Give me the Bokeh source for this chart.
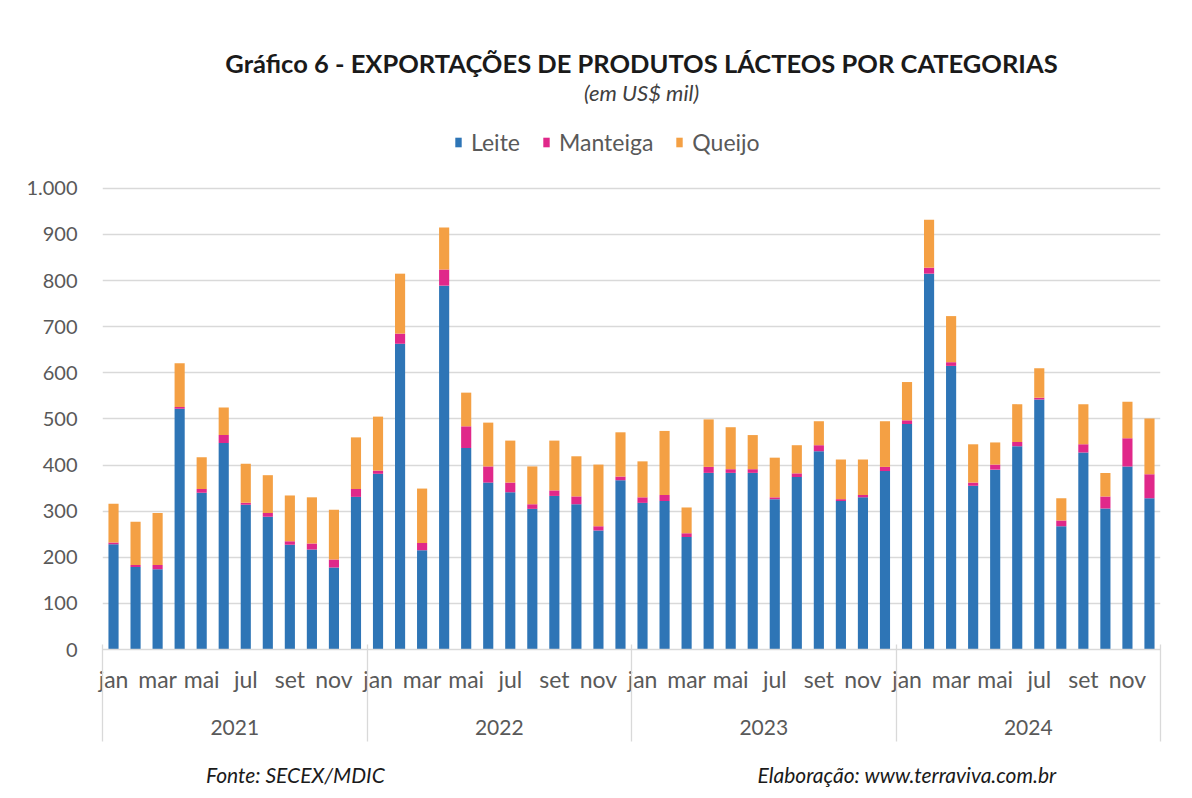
from bokeh.plotting import figure
from bokeh.models import (ColumnDataSource, FixedTicker, LinearAxis, Label, Legend, LegendItem, Range1d)
from bokeh.embed import file_html
from bokeh.resources import INLINE

years = ["2021", "2022", "2023", "2024"]
months = ["jan", "fev", "mar", "abr", "mai", "jun", "jul", "ago", "set", "out", "nov", "dez"]

leite = [228, 179, 174, 522, 340, 448, 314, 288, 227, 217, 178, 331,
         381, 663, 215, 789, 437, 362, 341, 305, 333, 315, 258, 367,
         318, 322, 244, 383, 383, 383, 326, 374, 430, 322, 330, 387,
         489, 815, 615, 355, 390, 441, 542, 267, 427, 306, 397, 328]
manteiga = [4, 4, 9, 4, 8, 17, 4, 8, 8, 13, 17, 17,
            7, 22, 16, 35, 47, 35, 21, 10, 12, 17, 9, 8,
            12, 13, 8, 13, 8, 8, 4, 8, 13, 4, 5, 9,
            8, 13, 8, 7, 11, 9, 4, 13, 18, 26, 61, 52]
queijo = [84, 94, 113, 95, 69, 60, 85, 82, 99, 100, 108, 112,
          117, 130, 118, 91, 73, 95, 91, 82, 108, 87, 134, 96,
          78, 139, 56, 103, 91, 74, 86, 61, 52, 86, 77, 99,
          83, 104, 100, 83, 48, 82, 64, 48, 87, 51, 79, 121]

series = ["Leite", "Manteiga", "Queijo"]
colors = ["#2E75B6", "#E0288A", "#F4A044"]
y_ticks = [0, 100, 200, 300, 400, 500, 600, 700, 800, 900, 1000]

title_text = "Gráfico 6 - EXPORTAÇÕES DE PRODUTOS LÁCTEOS POR CATEGORIAS"
subtitle_text = "(em US$ mil)"
source_text = "Fonte: SECEX/MDIC"
credit_text = "Elaboração: www.terraviva.com.br"

n = len(leite)
idx = list(range(n))
source = ColumnDataSource(dict(x=idx, Leite=leite, Manteiga=manteiga, Queijo=queijo))

FONT = "Lato"
GRAY = "#595959"
LINE = "#D9D9D9"

W, H = 1176, 794
p = figure(width=W, height=H, output_backend="svg", toolbar_location=None,
           x_range=Range1d(-0.5, n - 0.5), y_range=Range1d(0, 1364),
           min_border_left=102, min_border_right=16, min_border_top=20, min_border_bottom=145,
           x_axis_location=None, y_axis_location="left")
p.outline_line_color = None
p.background_fill_color = "white"
p.border_fill_color = "white"

renderers = p.vbar_stack(series, x="x", width=0.46, color=colors, source=source, line_color=None)

# grid
p.xgrid.grid_line_color = None
p.ygrid.grid_line_color = LINE
p.ygrid.grid_line_width = 1.3
p.ygrid.ticker = FixedTicker(ticks=y_ticks)

# y axis
yax = p.yaxis[0]
yax.ticker = FixedTicker(ticks=y_ticks)
yax.major_label_overrides = {1000: "1.000"}
yax.axis_line_color = None
yax.major_tick_line_color = None
yax.minor_tick_line_color = None
yax.major_label_text_font = FONT
yax.major_label_text_font_size = "20px"
yax.major_label_text_color = GRAY
yax.major_label_standoff = 19

# month axis
month_ticks = list(range(0, n, 2))
xm = LinearAxis(ticker=FixedTicker(ticks=month_ticks))
xm.major_label_overrides = {i: months[i % 12] for i in month_ticks}
xm.axis_line_color = LINE
xm.axis_line_width = 1.3
xm.major_tick_line_color = None
xm.major_tick_out = 0
xm.minor_tick_line_color = None
xm.major_label_text_font = FONT
xm.major_label_text_font_size = "23px"
xm.major_label_text_color = GRAY
xm.major_label_standoff = 15
p.add_layout(xm, "below")

# year axis
year_ticks = [5.5 + 12 * k for k in range(len(years))]
xy = LinearAxis(ticker=FixedTicker(ticks=year_ticks))
xy.major_label_overrides = {t: years[k] for k, t in enumerate(year_ticks)}
xy.axis_line_color = None
xy.major_tick_line_color = None
xy.minor_tick_line_color = None
xy.major_tick_out = 0
xy.major_label_text_font = FONT
xy.major_label_text_font_size = "21px"
xy.major_label_text_color = GRAY
xy.major_label_standoff = 24
p.add_layout(xy, "below")

# notes axis (also draws the year separators)
separators = [-0.5 + 12 * k for k in range(len(years) + 1)]
note_ticks = [8.25, 36]
xn = LinearAxis(ticker=FixedTicker(ticks=note_ticks, minor_ticks=separators))
xn.major_label_overrides = {8.25: source_text, 36: credit_text}
xn.axis_line_color = None
xn.major_tick_line_color = None
xn.major_tick_out = 0
xn.minor_tick_line_color = LINE
xn.minor_tick_line_width = 1.3
xn.minor_tick_in = 93
xn.minor_tick_out = 4
xn.major_label_text_font = FONT
xn.major_label_text_font_style = "italic"
xn.major_label_text_font_size = "21px"
xn.major_label_text_color = "#1a1a1a"
xn.major_label_standoff = 20
p.add_layout(xn, "below")

# legend (inside the frame, above the 1.000 gridline)
legend = Legend(items=[LegendItem(label=s, renderers=[r]) for s, r in zip(series, renderers)],
                orientation="horizontal", location=(352, 493))
legend.label_text_font = FONT
legend.label_text_font_size = "23px"
legend.label_text_color = GRAY
legend.glyph_width = 8
legend.glyph_height = 12
legend.label_standoff = 9
legend.spacing = 22
legend.padding = 2
legend.margin = 0
legend.border_line_color = None
legend.background_fill_alpha = 0
p.add_layout(legend, "center")

# titles
p.add_layout(Label(x=539, y=587, x_units="screen", y_units="screen",
                   text=title_text, text_font=FONT, text_font_style="bold",
                   text_font_size="25.5px", text_color="#1a1a1a",
                   text_align="center", text_baseline="middle"))
p.add_layout(Label(x=539, y=557, x_units="screen", y_units="screen",
                   text=subtitle_text, text_font=FONT, text_font_style="italic",
                   text_font_size="22px", text_color="#404040",
                   text_align="center", text_baseline="middle"))

open("out.html", "w").write(file_html(p, INLINE))
